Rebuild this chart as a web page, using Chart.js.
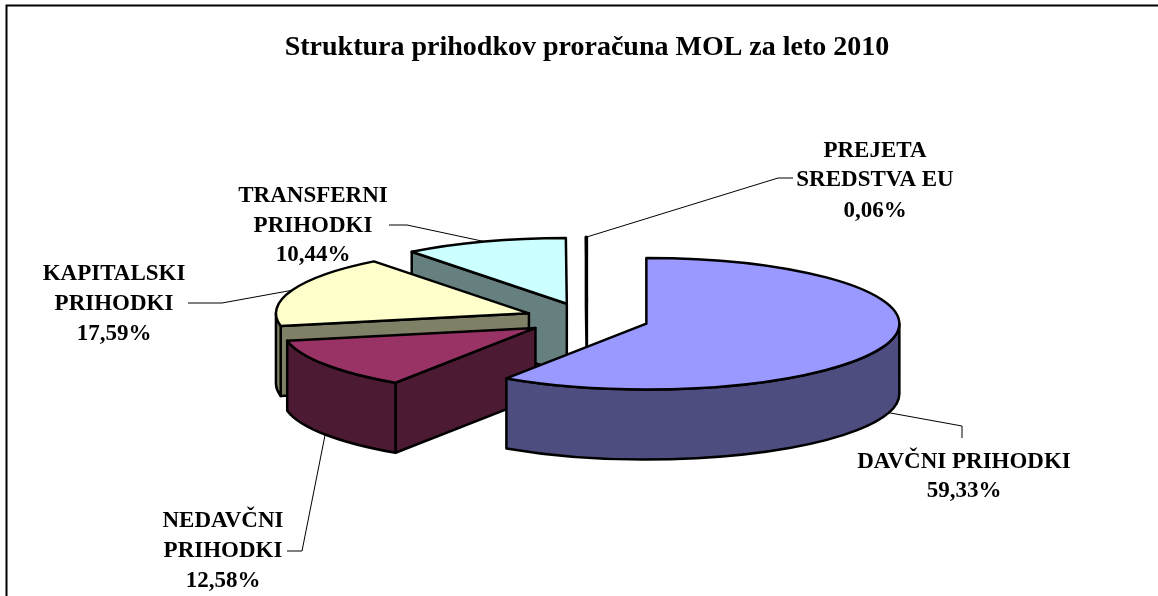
<!DOCTYPE html>
<html>
<head>
<meta charset="utf-8">
<title>Struktura prihodkov</title>
<script src="https://cdn.jsdelivr.net/npm/chart.js@4"></script>
<style>
    html, body { margin: 0; padding: 0; background: #fff; overflow: hidden; }
    canvas { display: block; }
</style>
</head>
<body>
<canvas id="pie" width="1158" height="596"></canvas>
<script>
// Chart data
const chartTitle = 'Struktura prihodkov proračuna MOL za leto 2010';
const categories = ['DAVČNI PRIHODKI', 'NEDAVČNI PRIHODKI', 'KAPITALSKI PRIHODKI', 'TRANSFERNI PRIHODKI', 'PREJETA SREDSTVA EU'];
const values = [59.33, 12.58, 17.59, 10.44, 0.06];

// Slice colours, top face and side wall
const topColors = ['#9999ff', '#993366', '#ffffcc', '#ccffff', '#ffffff'];
const sideColors = ['#4d4d80', '#4d1a33', '#808066', '#668080', '#808080'];

// Look of the fake 3D pie
const pieRadius = 253;
const pieCenterY = 319;
const squash = 0.26;
const depth = 70;
const explode = 62;
const FONT = 'bold 23px "Liberation Serif"';

// Where the data labels sit: text centre, line rows, and the leader line bend points
const labelCenters = [964, 223, 114, 313, 875];
const labelRows = [[462, 491], [521, 551, 581], [274, 304, 334], [196, 226, 255], [151, 180, 211]];
const leaderBends = [
    [[962, 426], [962, 438]],
    [[302, 551], [287, 551]],
    [[222, 303], [188, 303]],
    [[407, 225], [389, 225]],
    [[778, 178], [793, 178]]
];

function offsetOf(arc) {
    const mid = (arc.startAngle + arc.endAngle) / 2;
    return { x: Math.cos(mid) * explode, y: Math.sin(mid) * explode };
}

// Point on the squashed pie, angle in canvas radians
function project(arc, angle, r, drop) {
    const off = offsetOf(arc);
    return {
        x: arc.x + off.x + Math.cos(angle) * r,
        y: pieCenterY + (off.y + Math.sin(angle) * r) * squash + drop
    };
}

function strokeAndFill(ctx, color) {
    ctx.fillStyle = color;
    ctx.fill();
    ctx.stroke();
}

function drawWall(ctx, arc, angle, color) {
    const r = arc.outerRadius;
    const a = project(arc, angle, 0, 0);
    const b = project(arc, angle, r, 0);
    ctx.beginPath();
    ctx.moveTo(a.x, a.y);
    ctx.lineTo(b.x, b.y);
    ctx.lineTo(b.x, b.y + depth);
    ctx.lineTo(a.x, a.y + depth);
    ctx.closePath();
    strokeAndFill(ctx, color);
}

function drawSlice(ctx, arc, i) {
    const r = arc.outerRadius;
    const ry = r * squash;
    const start = arc.startAngle;
    const end = arc.endAngle;
    const c = project(arc, 0, 0, 0);

    // radial walls, only the ones turned towards us
    if (Math.cos(start) < 0) drawWall(ctx, arc, start, sideColors[i]);
    if (Math.cos(end) > 0) drawWall(ctx, arc, end, sideColors[i]);

    // outer wall, only the front half of the rim
    const from = Math.max(start, 0);
    const to = Math.min(end, Math.PI);
    if (to > from) {
        ctx.beginPath();
        ctx.ellipse(c.x, c.y, r, ry, 0, from, to);
        ctx.ellipse(c.x, c.y + depth, r, ry, 0, to, from, true);
        ctx.closePath();
        strokeAndFill(ctx, sideColors[i]);
    }

    // top face is the library's own arc, drawn through the squash
    const off = offsetOf(arc);
    ctx.save();
    ctx.translate(off.x, pieCenterY + off.y * squash);
    ctx.scale(1, squash);
    ctx.translate(0, -arc.y);
    arc.draw(ctx);
    ctx.restore();

    ctx.beginPath();
    ctx.moveTo(c.x, c.y);
    ctx.ellipse(c.x, c.y, r, ry, 0, start, end);
    ctx.closePath();
    ctx.stroke();
}

function drawLabels(chart) {
    const ctx = chart.ctx;
    const arcs = chart.getDatasetMeta(0).data;
    ctx.save();

    // leader lines start on the rim at the middle of each slice
    ctx.strokeStyle = '#000';
    ctx.lineWidth = 1;
    arcs.forEach((arc, i) => {
        const mid = (arc.startAngle + arc.endAngle) / 2;
        const p = project(arc, mid, arc.outerRadius, Math.sin(mid) > 0 ? depth : 0);
        ctx.beginPath();
        ctx.moveTo(p.x, p.y);
        leaderBends[i].forEach(b => ctx.lineTo(b[0], b[1]));
        ctx.stroke();
    });

    ctx.fillStyle = '#000';
    ctx.font = FONT;
    ctx.textAlign = 'center';
    ctx.textBaseline = 'middle';
    categories.forEach((name, i) => {
        const rows = labelRows[i];
        let lines = [name];
        if (rows.length === 3) {
            const cut = name.indexOf(' ');
            lines = [name.slice(0, cut), name.slice(cut + 1)];
        }
        lines.push(values[i].toFixed(2).replace('.', ',') + '%');
        lines.forEach((line, j) => ctx.fillText(line, labelCenters[i], rows[j]));
    });
    ctx.restore();
}

const pie3d = {
    id: 'pie3d',
    beforeDraw(chart) {
        // chart frame, right and bottom run off the picture
        const ctx = chart.ctx;
        ctx.save();
        ctx.fillStyle = '#fff';
        ctx.fillRect(0, 0, chart.width, chart.height);
        ctx.strokeStyle = '#000';
        ctx.lineWidth = 2;
        ctx.beginPath();
        ctx.moveTo(6.5, chart.height + 2);
        ctx.lineTo(6.5, 5.5);
        ctx.lineTo(chart.width + 2, 5.5);
        ctx.stroke();
        ctx.restore();
    },
    beforeDatasetDraw(chart) {
        const ctx = chart.ctx;
        const arcs = chart.getDatasetMeta(0).data;
        ctx.save();
        ctx.strokeStyle = '#000';
        ctx.lineWidth = 2.5;
        ctx.lineJoin = 'round';
        // back to front, the last slice sits nearest the viewer
        for (let i = arcs.length - 1; i >= 0; i--) {
            drawSlice(ctx, arcs[i], i);
        }
        ctx.restore();
        return false;
    },
    afterDatasetsDraw(chart) {
        drawLabels(chart);
    }
};

new Chart(document.getElementById('pie'), {
    type: 'pie',
    data: {
        labels: categories,
        datasets: [{
            data: values,
            backgroundColor: topColors,
            borderWidth: 0,
            radius: pieRadius
        }]
    },
    options: {
        responsive: false,
        animation: false,
        events: [],
        layout: { padding: { left: 16 } },
        plugins: {
            legend: { display: false },
            tooltip: { enabled: false },
            title: {
                display: true,
                text: chartTitle,
                color: '#000',
                font: { family: '"Liberation Serif"', size: 28, weight: 'bold', lineHeight: 1.2 },
                padding: { top: 31, bottom: 10 }
            }
        }
    },
    plugins: [pie3d]
});
</script>
</body>
</html>
